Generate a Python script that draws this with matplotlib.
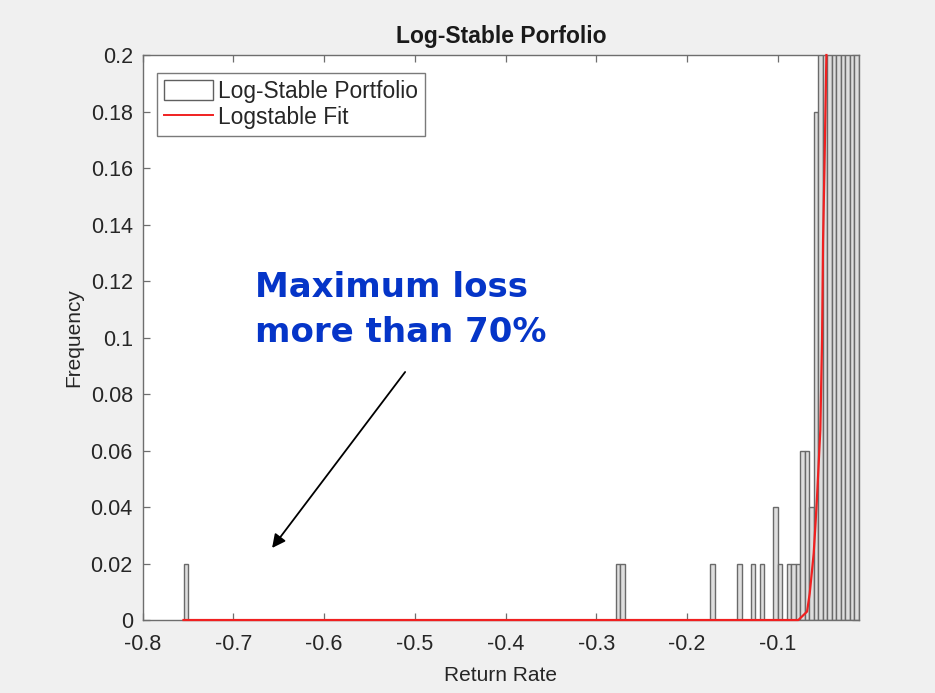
import numpy as np
import matplotlib
matplotlib.use('Agg')
import matplotlib.pyplot as plt
from matplotlib.patches import Patch
from matplotlib.lines import Line2D

# histogram of portfolio returns (150 equal bins between min and max return)
ret_min = -0.7549
ret_max = -0.0106
n_bins = 150

# bins that are not empty, and their relative frequency
bar_bins = [0, 96, 97, 117, 123, 126, 128, 131, 132, 134, 135, 136, 137, 138,
            139, 140, 141, 142, 143, 144, 145, 146, 147, 148, 149]
bar_freq = [0.02, 0.02, 0.02, 0.02, 0.02, 0.02, 0.02, 0.04, 0.02, 0.02, 0.02, 0.02, 0.06, 0.06,
            0.04, 0.18, 0.34, 0.55, 0.83, 1.18, 1.52, 1.80, 1.95, 1.90, 1.62]

# fitted log-stable density (up to the top of the plot)
fit_x = [-0.7549, -0.0800, -0.0774, -0.0678, -0.0649, -0.0623, -0.0605, -0.0587,
         -0.0568, -0.0550, -0.0532, -0.0513, -0.0502, -0.0487, -0.0465]
fit_y = [0.0, 0.0, 0.0, 0.003, 0.0094, 0.0177, 0.0236, 0.033,
         0.0437, 0.0555, 0.0673, 0.099, 0.134, 0.159, 0.2]

x_ticks = [-0.8, -0.7, -0.6, -0.5, -0.4, -0.3, -0.2, -0.1]
x_labels = ['-0.8', '-0.7', '-0.6', '-0.5', '-0.4', '-0.3', '-0.2', '-0.1']
y_ticks = [0, 0.02, 0.04, 0.06, 0.08, 0.1, 0.12, 0.14, 0.16, 0.18, 0.2]
y_labels = ['0', '0.02', '0.04', '0.06', '0.08', '0.1', '0.12', '0.14', '0.16', '0.18', '0.2']

plt.rcParams['font.family'] = ['Liberation Sans', 'DejaVu Sans']
txt = '#262626'
axc = '#6e6e6e'
red = '#f02020'

edges = np.linspace(ret_min, ret_max, n_bins + 1)
freq = np.zeros(n_bins)
freq[bar_bins] = bar_freq

fig = plt.figure(figsize=(9.35, 6.93), dpi=100, facecolor='#f0f0f0')
ax = fig.add_axes([0.1525, 0.1053, 0.7662, 0.8153])
ax.set_facecolor('white')

ax.bar(edges[:-1], freq, width=np.diff(edges), align='edge',
       facecolor='#dedede', edgecolor='#6a6a6a', linewidth=1.0, zorder=2)
# not clipped so the part lying on the x axis stays visible
ax.plot(fit_x, fit_y, color=red, linewidth=1.6, zorder=6, clip_on=False)

ax.set_xlim(-0.8, ret_max)
ax.set_ylim(0, 0.2)
ax.set_xticks(x_ticks, x_labels)
ax.set_yticks(y_ticks, y_labels)
ax.tick_params(direction='in', top=True, right=True, length=5, width=0.9,
               color=axc, labelcolor=txt, labelsize=15.5)
ax.tick_params(axis='x', pad=10)
ax.tick_params(axis='y', pad=7)
for sp in ax.spines.values():
    sp.set_color(axc)
    sp.set_linewidth(1.0)
    sp.set_zorder(5)

ax.set_title('Log-Stable Porfolio', fontsize=16.5, fontweight='bold', color='#1a1a1a', pad=9)
ax.set_xlabel('Return Rate', fontsize=15, color=txt, labelpad=8)
ax.set_ylabel('Frequency', fontsize=15, color=txt, labelpad=5)

handles = [Patch(facecolor='white', edgecolor='#606060', linewidth=1.0),
           Line2D([], [], color=red, linewidth=1.4)]
leg = ax.legend(handles, ['Log-Stable Portfolio', 'Logstable Fit'],
                loc='upper left', bbox_to_anchor=(0.0205, 0.9687), borderaxespad=0,
                fontsize=16.4, handlelength=2.15, handleheight=0.95, handletextpad=0.22,
                borderpad=0.3, labelspacing=0.15, fancybox=False, framealpha=1,
                edgecolor='#7a7a7a')
leg.get_frame().set_linewidth(1.0)
leg.set_zorder(7)
for t in leg.get_texts():
    t.set_color(txt)

# callout for the worst loss
ax.text(0.1569, 0.618, 'Maximum loss\nmore than 70%', transform=ax.transAxes,
        fontsize=24.5, fontweight='bold', color='#0535c8', family='DejaVu Sans',
        ha='left', va='top', linespacing=1.45)
ax.annotate('', xy=(-0.6573, 0.0255), xytext=(-0.5107, 0.0878),
            arrowprops=dict(arrowstyle='-|>', color='black', lw=1.3,
                            mutation_scale=20, shrinkA=0, shrinkB=0))

plt.savefig('out.png', dpi=100, facecolor=fig.get_facecolor())
